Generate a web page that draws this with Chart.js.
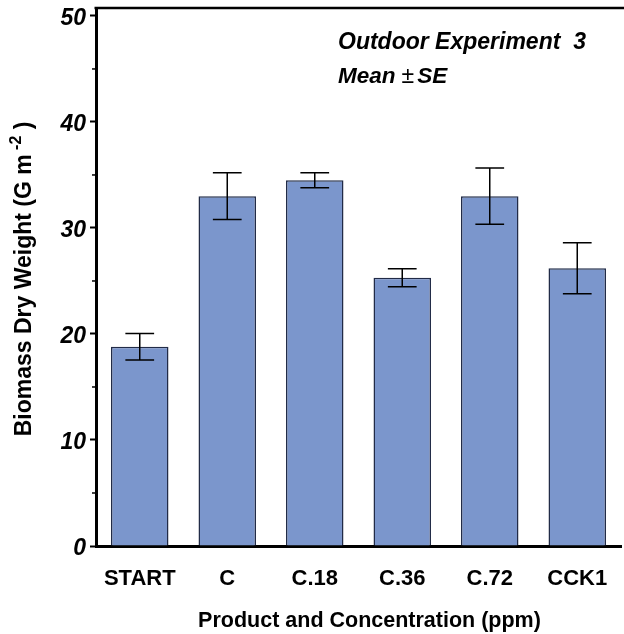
<!DOCTYPE html>
<html>
<head>
<meta charset="utf-8">
<script src="https://cdn.jsdelivr.net/npm/chart.js@4.4.0/dist/chart.umd.min.js"></script>
<style>
  html, body { margin: 0; padding: 0; background: #fff; }
  #wrap { width: 624px; height: 634px; position: relative; }
</style>
</head>
<body>
<div id="wrap"><canvas id="c" width="624" height="634"></canvas></div>
<script>
const categories = ['START', 'C', 'C.18', 'C.36', 'C.72', 'CCK1'];
const means = [18.8, 33.0, 34.5, 25.3, 33.0, 26.2];
const se = [1.25, 2.2, 0.7, 0.85, 2.65, 2.4];
const yTicks = [0, 10, 20, 30, 40, 50];
const yMinorTicks = [5, 15, 25, 35, 45];
const annotation = ['Outdoor Experiment  3', 'Mean', '\u00B1', 'SE'];
const xTitle = 'Product and Concentration (ppm)';

const FONT = "'Liberation Sans', Arial, Helvetica, sans-serif";

const extrasPlugin = {
  id: 'extras',
  afterDatasetsDraw(chart) {
    const ctx = chart.ctx;
    const y = chart.scales.y;
    const meta = chart.getDatasetMeta(0);
    ctx.save();
    ctx.strokeStyle = '#000';
    ctx.lineWidth = 1.5;
    meta.data.forEach((bar, i) => {
      const cx = bar.x;
      const yt = y.getPixelForValue(means[i] + se[i]);
      const yb = y.getPixelForValue(means[i] - se[i]);
      const hw = bar.width * 0.25;
      ctx.beginPath();
      ctx.moveTo(cx, yt); ctx.lineTo(cx, yb);
      ctx.moveTo(cx - hw, yt); ctx.lineTo(cx + hw, yt);
      ctx.moveTo(cx - hw, yb); ctx.lineTo(cx + hw, yb);
      ctx.stroke();
    });
    ctx.restore();
  },
  afterDraw(chart) {
    const ctx = chart.ctx;
    const y = chart.scales.y;
    const area = chart.chartArea;
    ctx.save();
    // top frame line
    ctx.strokeStyle = '#000';
    ctx.lineWidth = 2.5;
    ctx.beginPath();
    ctx.moveTo(area.left - 1.5, area.top);
    ctx.lineTo(chart.width, area.top);
    ctx.stroke();
    // minor ticks
    ctx.lineWidth = 1.5;
    yMinorTicks.forEach(v => {
      const py = y.getPixelForValue(v);
      ctx.beginPath();
      ctx.moveTo(area.left - 4, py);
      ctx.lineTo(area.left, py);
      ctx.stroke();
    });
    // annotation
    ctx.fillStyle = '#000';
    ctx.textBaseline = 'alphabetic';
    ctx.textAlign = 'left';
    ctx.font = "italic bold 23px " + FONT;
    const ax = area.left + 242;
    ctx.fillText(annotation[0], ax, 49);
    ctx.font = "italic bold 22.5px " + FONT;
    ctx.fillText(annotation[1], ax, 83);
    const w = ctx.measureText(annotation[1]).width;
    ctx.font = "23px " + FONT;
    ctx.fillText(annotation[2], ax + w + 6, 83);
    const w2 = ctx.measureText(annotation[2]).width;
    ctx.font = "italic bold 22.5px " + FONT;
    ctx.fillText(annotation[3], ax + w + w2 + 9, 83);
    // x axis title
    ctx.textAlign = 'center';
    ctx.font = "bold 21.5px " + FONT;
    ctx.fillText(xTitle, (area.left + area.right) / 2 + 11, 627);
    // y axis title with superscript
    ctx.textAlign = 'left';
    ctx.translate(25, (area.top + area.bottom) / 2 + 1);
    ctx.rotate(-Math.PI / 2);
    ctx.textBaseline = 'middle';
    ctx.font = "bold 23px " + FONT;
    const p1 = 'Biomass Dry Weight (G m ';
    const p2 = '-2';
    const p3 = ' )';
    const w1 = ctx.measureText(p1).width;
    const w3 = ctx.measureText(p3).width;
    ctx.font = "bold 16px " + FONT;
    const wsup = ctx.measureText(p2).width;
    const total = w1 + wsup + w3;
    const sx = -total / 2;
    ctx.font = "bold 23px " + FONT;
    ctx.fillText(p1, sx, 0);
    ctx.font = "bold 16px " + FONT;
    ctx.fillText(p2, sx + w1 - 2, -8);
    ctx.font = "bold 23px " + FONT;
    ctx.fillText(p3, sx + w1 + wsup - 2, 0);
    ctx.restore();
  }
};

new Chart(document.getElementById('c'), {
  type: 'bar',
  data: {
    labels: categories,
    datasets: [{
      data: means,
      backgroundColor: '#7b96cc',
      borderColor: '#212b47',
      borderWidth: 1.5,
      categoryPercentage: 1.0,
      barPercentage: 0.657
    }]
  },
  options: {
    responsive: false,
    animation: false,
    devicePixelRatio: 1,
    layout: { padding: { top: 8, right: 3, left: 0, bottom: 0 } },
    plugins: { legend: { display: false }, tooltip: { enabled: false } },
    scales: {
      x: {
        grid: { display: false, drawTicks: false },
        border: { display: true, color: '#000', width: 3 },
        ticks: { color: '#000', padding: 20, font: { family: FONT, size: 22, weight: 'bold' } },
        title: { display: false },
        afterFit(s) { s.height = 88; s.paddingLeft = 0; s.paddingRight = 0; }
      },
      y: {
        min: 0, max: 50.75,
        grid: { drawOnChartArea: false, drawTicks: true, tickLength: 6, tickColor: '#000', tickWidth: 2 },
        border: { display: true, color: '#000', width: 3 },
        ticks: {
          stepSize: 10, color: '#000', padding: 4, labelOffset: 2.5,
          font: { family: FONT, size: 23, weight: 'bold', style: 'italic' }
        },
        afterBuildTicks(s) { s.ticks = yTicks.map(v => ({ value: v })); },
        afterFit(s) { s.width = 96; s.paddingTop = 0; s.paddingBottom = 0; }
      }
    }
  },
  plugins: [extrasPlugin]
});
</script>
</body>
</html>
